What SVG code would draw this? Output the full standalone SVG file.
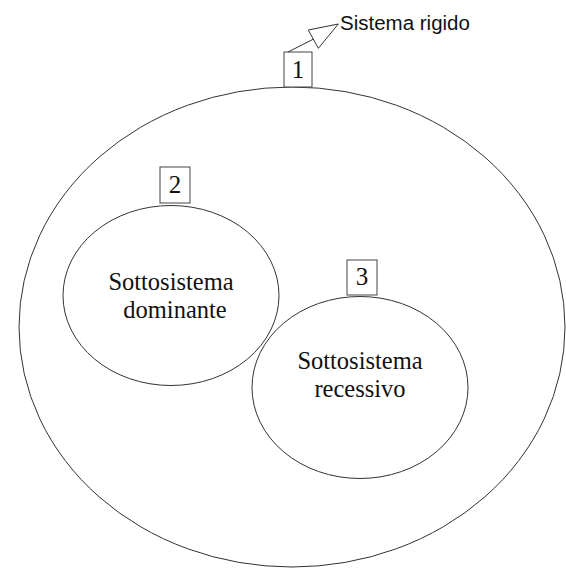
<svg xmlns="http://www.w3.org/2000/svg" width="566" height="569" viewBox="0 0 566 569">
<style>
.shape{fill:none;stroke:#333;stroke-width:1}
.box{fill:#fff;stroke:#444;stroke-width:1}
.serif{font-family:"Liberation Serif","Times New Roman",serif;fill:#111;text-anchor:middle}
.lbl{font-size:24.5px}
.num{font-size:25px}
.sans{font-family:"Liberation Sans",Arial,sans-serif;font-size:20.5px;fill:#111}
</style>
<rect width="566" height="569" fill="#fff"/>
<g id="sistema-rigido">
<ellipse class="shape" cx="292" cy="327" rx="273" ry="240"/>
<rect class="box" x="284" y="52" width="28" height="35"/>
<text class="serif num" x="298" y="77.5">1</text>
</g>
<g id="sottosistema-dominante">
<ellipse class="shape" cx="171" cy="295.5" rx="108" ry="90"/>
<rect class="box" x="160" y="167" width="30" height="36"/>
<text class="serif num" x="175" y="193">2</text>
<text class="serif lbl" x="171" y="290">Sottosistema</text>
<text class="serif lbl" x="175" y="317.5">dominante</text>
</g>
<g id="sottosistema-recessivo">
<ellipse class="shape" cx="360" cy="387.5" rx="108" ry="91"/>
<rect class="box" x="347" y="260" width="30" height="35"/>
<text class="serif num" x="362" y="285">3</text>
<text class="serif lbl" x="360" y="369">Sottosistema</text>
<text class="serif lbl" x="360" y="397">recessivo</text>
</g>
<g id="connectors">
<line class="shape" x1="288" y1="52" x2="313.3" y2="39.2"/>
<polygon class="shape" points="308.3,30 318.3,48.3 338.3,24"/>
</g>
<g id="label-sistema">
<text class="sans" x="340" y="30">Sistema rigido</text>
</g>
</svg>
